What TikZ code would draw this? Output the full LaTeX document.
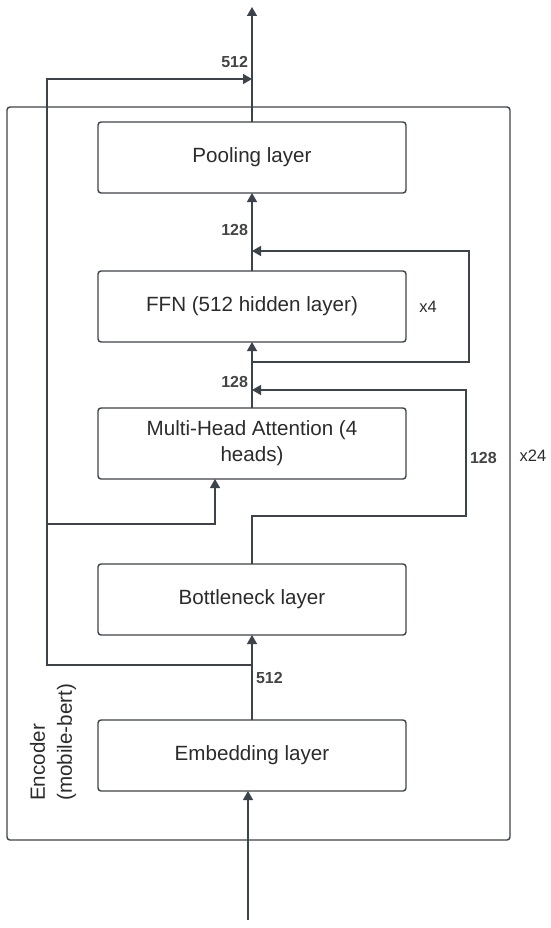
\documentclass[tikz,border=0pt]{standalone}
\usepackage{fontspec}
\setmainfont{Liberation Sans}
\usepackage{tikz}
\usetikzlibrary{positioning}
\usetikzlibrary{arrows.meta}
\definecolor{linecol}{HTML}{3D434B}
\definecolor{textcol}{HTML}{2B2B2B}
\definecolor{dimcol}{HTML}{444444}
\tikzstyle{layer} = [rectangle, rounded corners=3pt, minimum width=308pt, minimum height=71pt, outer sep=0pt, text centered, draw=linecol, line width=1.4pt, text=textcol, font=\fontsize{20.6}{26}\selectfont]
\tikzstyle{frame} = [rectangle, rounded corners=3pt, minimum width=503pt, minimum height=733pt, inner sep=0pt, draw=linecol, line width=1.4pt]
\tikzstyle{dim} = [text=dimcol, font=\bfseries\fontsize{16}{19}\selectfont]
\tikzstyle{reps} = [text=textcol, font=\fontsize{16.5}{19}\selectfont]
\tikzstyle{arrow} = [line width=1.4pt, draw=linecol, -{Triangle[length=9pt,width=10pt]}]
\tikzstyle{line} = [line width=1.4pt, draw=linecol]

\begin{document}
\begin{tikzpicture}[x=1pt, y=-1pt]
        \useasboundingbox (0,0) rectangle (550,928);
        \node (encoder) [frame] at (258.5,473.5) {};
        \node (pool) [layer] at (252,157.5) {Pooling layer};
        \node (ffn) [layer, below=78pt of pool] {FFN (512 hidden layer)};
        \node (mha) [layer, below=66pt of ffn, align=center] {Multi-Head Attention (4\\heads)};
        \node (bott) [layer, below=85pt of mha] {Bottleneck layer};
        \node (emb) [layer, below=85pt of bott] {Embedding layer};
        \node (ffnreps) [reps] at (428,307) {x4};
        \node (encreps) [reps] at (533,456) {x24};
        \node (enclabel) [rotate=90, anchor=west, align=left, inner sep=0pt, text=textcol, font=\fontsize{20.6}{27}\selectfont] at (53,801) {Encoder\\(mobile-bert)};

        \coordinate (input) at (248,920);
        \coordinate (output) at (252,7);
        \coordinate (tapemb) at (252,665);
        \coordinate (skipleft) at (47,79);
        \coordinate (tapmha) at (47,524);
        \coordinate (tapbott) at (466,516);
        \coordinate (tapffn) at (252,362);
        \coordinate (ffnloop) at (469,251);

        \draw [arrow] (input) -- (input |- emb.south);
        \draw [arrow] (emb) -- node[dim, right] {512} (bott);
        \draw [arrow] (tapemb) -| (skipleft) -- (skipleft -| pool.north);
        \draw [arrow] (tapmha) -| ([xshift=-37pt]mha.south);
        \draw [arrow] (bott.north) |- (tapbott) |- node[dim, right, pos=0.23] {128} (tapffn |- 0,390);
        \draw [arrow] (mha) -- node[dim, left, pos=0.39] {128} (ffn);
        \draw [arrow] (tapffn) -| (ffnloop) -- (ffnloop -| ffn.north);
        \draw [arrow] (ffn) -- node[dim, left, pos=0.53] {128} (pool);
        \draw [arrow] (pool) -- node[dim, left, pos=0.52] {512} (output);
\end{tikzpicture}
\end{document}
